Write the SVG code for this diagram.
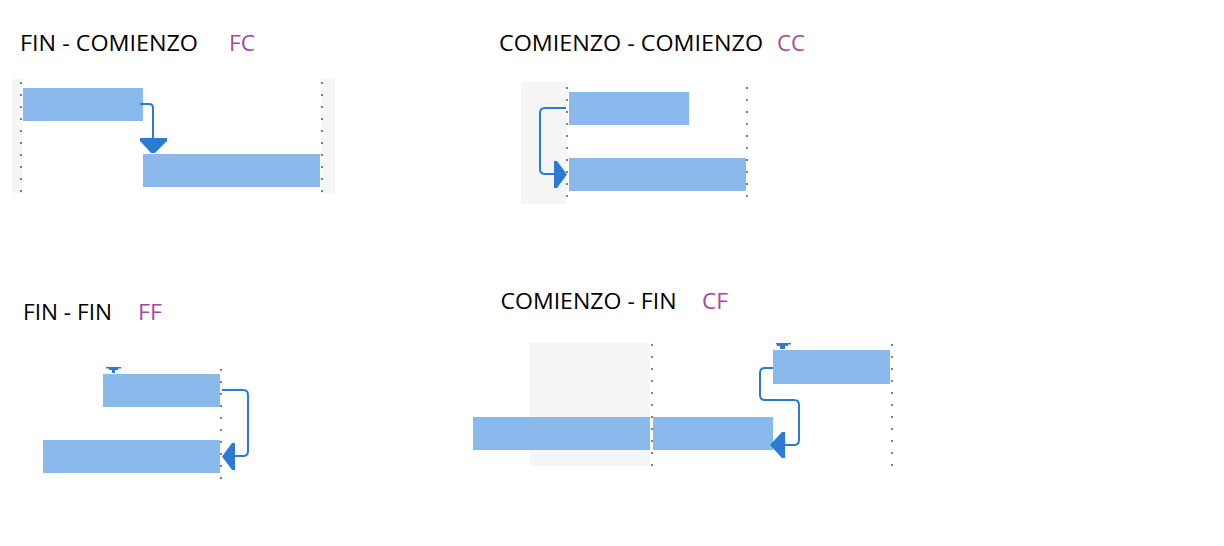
<svg xmlns="http://www.w3.org/2000/svg" width="1224" height="546" viewBox="0 0 1224 546">
<style>
.title{font-family:"Open Sans","Liberation Sans",sans-serif;font-size:22px;fill:#000}
.code{font-family:"Open Sans","Liberation Sans",sans-serif;font-size:22px;fill:#a349a4}
.panel{fill:#f5f5f5}
.bar{fill:#8ab9eb}
.dots{stroke:#7f7f7f;stroke-width:2;stroke-dasharray:2 10;fill:none}
.link{stroke:#2b7bd4;stroke-width:2;fill:none}
.head{fill:#2b7bd4}
</style>
<rect width="1224" height="546" fill="#fff"/>

<g id="fc">
  <rect class="panel" x="12" y="79" width="323" height="114"/>
  <rect x="22" y="79" width="300" height="114" fill="#fff"/>
  <line class="dots" x1="21" y1="82" x2="21" y2="193"/>
  <line class="dots" x1="322" y1="82" x2="322" y2="193"/>
  <rect class="bar" x="23" y="88" width="120" height="33"/>
  <rect class="bar" x="143" y="154" width="177" height="33"/>
  <text class="title" x="20" y="51" textLength="178" lengthAdjust="spacingAndGlyphs">FIN - COMIENZO</text>
  <text class="code" x="229" y="51" textLength="26" lengthAdjust="spacingAndGlyphs">FC</text>
</g>

<g id="cc">
  <rect class="panel" x="521" y="82" width="45" height="122"/>
  <line class="dots" x1="567" y1="87" x2="567" y2="198"/>
  <line class="dots" x1="747" y1="87" x2="747" y2="198"/>
  <rect class="bar" x="569" y="92" width="120" height="33"/>
  <rect class="bar" x="569" y="158" width="177" height="33"/>
  <text class="title" x="499" y="51" textLength="264" lengthAdjust="spacingAndGlyphs">COMIENZO - COMIENZO</text>
  <text class="code" x="777" y="51" textLength="28" lengthAdjust="spacingAndGlyphs">CC</text>
</g>

<g id="ff">
  <line class="dots" x1="221" y1="369" x2="221" y2="480"/>
  <rect class="bar" x="103" y="374" width="117" height="33"/>
  <rect class="bar" x="43" y="440" width="177" height="33"/>
  <path class="head" d="M106 367H121V368.5H118V370H115V373H112V370H109V368.5H106Z"/>
  <text class="title" x="23" y="320" textLength="89" lengthAdjust="spacingAndGlyphs">FIN - FIN</text>
  <text class="code" x="138" y="320" textLength="24" lengthAdjust="spacingAndGlyphs">FF</text>
</g>

<g id="cf">
  <rect class="panel" x="530" y="343" width="120" height="123"/>
  <line class="dots" x1="652" y1="344" x2="652" y2="467"/>
  <line class="dots" x1="892" y1="344" x2="892" y2="467"/>
  <rect class="bar" x="473" y="417" width="177" height="33"/>
  <rect class="bar" x="653" y="417" width="120" height="33"/>
  <rect class="bar" x="773" y="350" width="117" height="34"/>
  <path class="head" d="M776 343H791V344.5H788V346H785V349H780V346H777V344.5H776Z"/>
  <text class="title" x="500.5" y="309" textLength="176" lengthAdjust="spacingAndGlyphs">COMIENZO - FIN</text>
  <text class="code" x="702" y="309" textLength="26" lengthAdjust="spacingAndGlyphs">CF</text>
</g>

<g id="connectors">
  <path class="link" d="M140 104H149Q153 104 153 108V152"/>
  <path class="head" d="M140 138H167V141L155 153H151L140 141Z"/>

  <path class="link" d="M566 108H545Q540 108 540 113V169Q540 174 545 174H556"/>
  <path class="head" d="M554 161H557L567 174.5L557 188H554Z"/>

  <path class="link" d="M222 390H243Q248 390 248 395V451Q248 456 243 456H233"/>
  <path class="head" d="M235 443V470H232L222 456.5L232 443Z"/>

  <path class="link" d="M773 368H765Q760 368 760 373V395Q760 400 765 400H794Q799 400 799 405V440Q799 445 794 445H783"/>
  <path class="head" d="M785 432V458H782L770 445L782 432Z"/>
</g>
</svg>
